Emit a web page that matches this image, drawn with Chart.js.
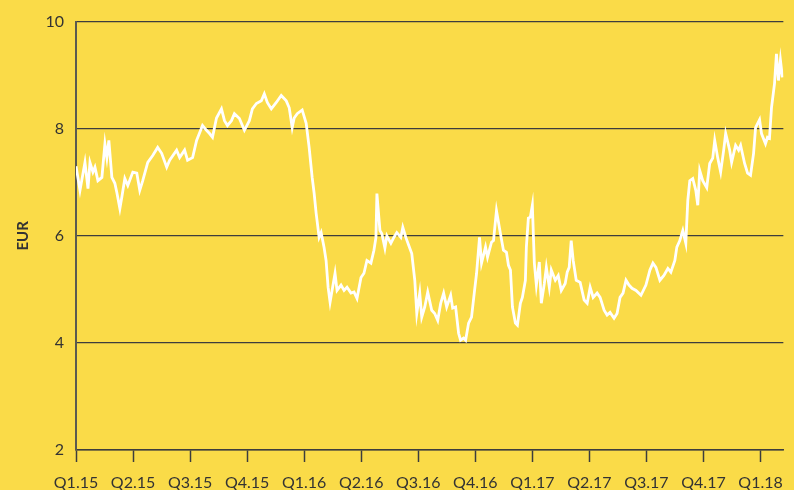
<!DOCTYPE html>
<html>
<head>
<meta charset="utf-8">
<script src="https://cdn.jsdelivr.net/npm/chart.js@4.4.1/dist/chart.umd.min.js"></script>
<style>
  html, body { margin: 0; padding: 0; background: #FADB48; }
  #wrap { width: 794px; height: 490px; position: relative; }
</style>
</head>
<body>
<div id="wrap"><canvas id="c" width="794" height="490"></canvas></div>
<script>
// Quarter tick labels (tick i sits at the start of quarter i)
const quarterLabels = ["Q1.15","Q2.15","Q3.15","Q4.15","Q1.16","Q2.16","Q3.16","Q4.16","Q1.17","Q2.17","Q3.17","Q4.17","Q1.18"];

// Time position, in quarters since the start of Q1.15
const timeQ = [
 0.000,0.070,0.157,0.210,0.245,0.297,0.332,0.384,0.454,0.507,0.541,0.576,0.629,0.681,0.716,0.769,0.803,0.856,0.908,0.996,
 1.066,1.118,1.170,1.258,1.345,1.432,1.502,1.590,1.642,1.764,1.817,1.904,1.956,2.044,2.114,2.218,2.288,2.341,2.393,2.463,
 2.550,2.603,2.655,2.725,2.777,2.865,2.952,3.039,3.092,3.162,3.249,3.301,3.354,3.424,3.511,3.598,3.686,3.738,3.790,3.825,
 3.878,3.965,4.035,4.087,4.122,4.140,4.175,4.210,4.262,4.297,4.349,4.384,4.419,4.454,4.489,4.541,4.576,4.646,4.699,4.751,
 4.821,4.873,4.926,4.996,5.048,5.100,5.170,5.223,5.258,5.275,5.328,5.362,5.415,5.450,5.520,5.572,5.624,5.694,5.729,5.782,
 5.834,5.886,5.939,5.974,6.026,6.061,6.114,6.166,6.236,6.288,6.341,6.393,6.445,6.498,6.568,6.603,6.655,6.707,6.742,6.795,
 6.830,6.882,6.934,6.987,7.022,7.074,7.109,7.179,7.214,7.284,7.319,7.371,7.441,7.493,7.546,7.581,7.616,7.651,7.703,7.738,
 7.790,7.825,7.878,7.895,7.930,7.965,8.000,8.035,8.070,8.122,8.157,8.210,8.245,8.297,8.332,8.402,8.454,8.507,8.576,8.611,
 8.646,8.681,8.716,8.769,8.838,8.908,8.961,9.013,9.066,9.135,9.188,9.258,9.310,9.362,9.432,9.485,9.537,9.590,9.642,9.694,
 9.747,9.817,9.904,9.991,10.061,10.114,10.166,10.236,10.306,10.376,10.428,10.498,10.533,10.585,10.638,10.690,10.725,10.760,10.812,10.865,
 10.900,10.934,10.987,11.057,11.109,11.162,11.197,11.249,11.301,11.354,11.389,11.459,11.493,11.563,11.616,11.651,11.721,11.773,11.825,11.878,
 11.913,11.983,12.017,12.087,12.122,12.157,12.192,12.245,12.279,12.314,12.349,12.384
];

// Price in EUR
const priceEUR = [
 7.30,6.85,7.37,6.88,7.37,7.19,7.28,7.03,7.09,7.72,7.46,7.78,7.09,6.98,6.81,6.51,6.72,7.07,6.94,7.19,
 7.17,6.85,7.03,7.37,7.50,7.65,7.54,7.28,7.41,7.60,7.46,7.60,7.41,7.46,7.78,8.06,7.97,7.91,7.84,8.20,
 8.37,8.15,8.06,8.15,8.28,8.19,7.97,8.15,8.37,8.47,8.52,8.65,8.49,8.37,8.49,8.62,8.52,8.39,8.02,8.20,
 8.28,8.35,8.10,7.65,7.28,7.09,6.79,6.42,5.97,6.06,5.78,5.54,5.04,4.76,4.98,5.30,4.98,5.08,4.98,5.04,
 4.93,4.95,4.83,5.22,5.30,5.54,5.49,5.73,5.97,6.79,6.10,6.04,5.77,6.00,5.86,5.97,6.06,5.97,6.16,5.97,
 5.82,5.67,5.17,4.55,4.93,4.48,4.67,4.95,4.61,4.55,4.42,4.74,4.93,4.67,4.89,4.65,4.67,4.18,4.05,4.09,
 4.05,4.37,4.48,4.98,5.30,5.97,5.49,5.79,5.60,5.88,5.91,6.47,6.04,5.73,5.69,5.45,5.36,4.67,4.37,4.33,
 4.74,4.85,5.17,5.79,6.33,6.35,6.57,5.49,5.08,5.51,4.74,5.11,5.41,5.04,5.36,5.17,5.26,4.98,5.11,5.32,
 5.41,5.91,5.54,5.17,5.13,4.80,4.74,5.04,4.85,4.93,4.85,4.61,4.52,4.57,4.46,4.55,4.85,4.93,5.17,5.08,
 5.02,4.98,4.89,5.08,5.36,5.49,5.41,5.17,5.26,5.39,5.32,5.54,5.79,5.91,6.10,5.86,6.66,7.03,7.07,6.85,
 6.57,7.22,7.03,6.90,7.35,7.45,7.78,7.46,7.19,7.60,7.91,7.60,7.37,7.69,7.60,7.69,7.35,7.17,7.13,7.54,
 8.02,8.17,7.91,7.72,7.84,7.82,8.39,8.84,9.40,8.90,9.28,8.96
];

const yTicks = [2, 4, 6, 8, 10];

const points = timeQ.map((t, i) => ({ x: t, y: priceEUR[i] }));

const textColor = '#333333';
const lineDark = '#3d3d3d';

const bgPlugin = {
  id: 'bg',
  beforeDraw(chart) {
    const ctx = chart.ctx;
    ctx.save();
    ctx.fillStyle = '#FADB48';
    ctx.fillRect(0, 0, chart.width, chart.height);
    ctx.restore();
  }
};

new Chart(document.getElementById('c'), {
  type: 'line',
  data: {
    datasets: [{
      data: points,
      borderColor: '#ffffff',
      borderWidth: 2.8,
      pointRadius: 0,
      tension: 0,
      fill: false
    }]
  },
  options: {
    responsive: false,
    animation: false,
    events: [],
    layout: { padding: { top: 21, right: 8, left: 0, bottom: 0 } },
    plugins: { legend: { display: false }, tooltip: { enabled: false } },
    scales: {
      x: {
        type: 'linear',
        min: 0,
        max: 12.4,
        afterFit(scale) { scale.height = 40; },
        afterBuildTicks(scale) {
          scale.ticks = quarterLabels.map((l, i) => ({ value: i }));
        },
        ticks: {
          autoSkip: false,
          maxRotation: 0,
          padding: 11,
          color: textColor,
          font: { family: 'Lato', size: 16 },
          callback: (v) => quarterLabels[Math.round(v)] ?? ''
        },
        grid: {
          drawOnChartArea: false,
          drawTicks: true,
          tickLength: 12,
          tickColor: lineDark,
          tickWidth: 1.5
        },
        border: { display: true, color: lineDark, width: 1.5 }
      },
      y: {
        min: 2,
        max: 10,
        afterFit(scale) { scale.width = 76; },
        afterBuildTicks(scale) {
          scale.ticks = yTicks.map(v => ({ value: v }));
        },
        ticks: {
          padding: 12,
          color: textColor,
          font: { family: 'Lato', size: 16 }
        },
        grid: {
          color: lineDark,
          lineWidth: 1.2,
          drawTicks: false
        },
        border: { display: true, color: '#5a5a50', width: 2 },
        title: {
          display: true,
          text: 'EUR',
          color: textColor,
          font: { family: 'Lato', size: 15, weight: 'bold' },
          padding: { top: 14, bottom: 0 }
        }
      }
    }
  },
  plugins: [bgPlugin]
});
</script>
</body>
</html>
